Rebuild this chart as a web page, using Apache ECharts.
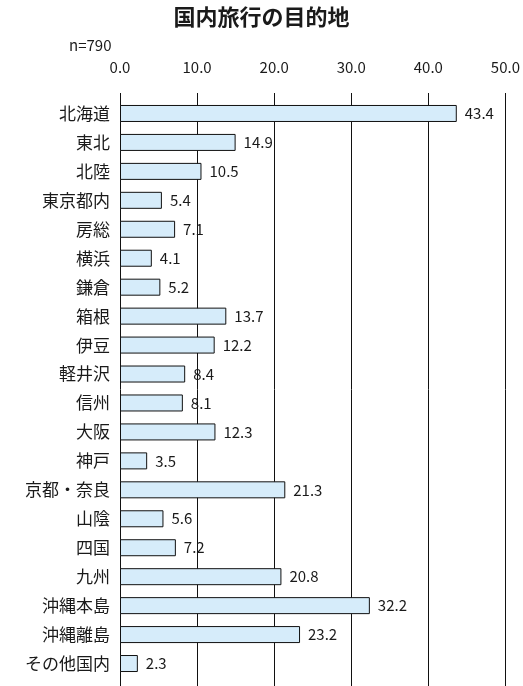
<!DOCTYPE html>
<html>
<head>
<meta charset="utf-8" />
<title>国内旅行の目的地</title>
<script src="https://cdn.jsdelivr.net/npm/echarts@6/dist/echarts.min.js"></script>
<style>
  * { margin: 0; padding: 0; }
  body { background: #ffffff; }
  #chart { width: 523px; height: 686px; }
</style>
</head>
<body>
<div id="chart"></div>
<script>
var categories = ['北海道', '東北', '北陸', '東京都内', '房総', '横浜', '鎌倉', '箱根', '伊豆', '軽井沢',
                  '信州', '大阪', '神戸', '京都・奈良', '山陰', '四国', '九州', '沖縄本島', '沖縄離島', 'その他国内'];
var values = [43.4, 14.9, 10.5, 5.4, 7.1, 4.1, 5.2, 13.7, 12.2, 8.4,
              8.1, 12.3, 3.5, 21.3, 5.6, 7.2, 20.8, 32.2, 23.2, 2.3];
var xTicks = { min: 0, max: 50, interval: 10 };

var font = '"Noto Sans CJK JP", "Noto Sans", sans-serif';
var chart = echarts.init(document.getElementById('chart'));

chart.setOption({
  animation: false,
  title: [{
    text: '国内旅行の目的地',
    left: 'center',
    top: 1,
    textStyle: { fontFamily: font, fontSize: 22, fontWeight: 'bold', color: '#1a1a1a' }
  }, {
    text: 'n=790',
    left: 64,
    top: 33,
    textStyle: { fontFamily: font, fontSize: 15, fontWeight: 'normal', color: '#1a1a1a' }
  }],
  grid: [
    // grid lines and tick labels
    { left: 120, right: 15, top: 93, bottom: -5 },
    // bars
    { left: 120, right: 15, top: 99, bottom: 8 }
  ],
  xAxis: [{
    gridIndex: 0,
    type: 'value',
    position: 'top',
    min: xTicks.min, max: xTicks.max, interval: xTicks.interval,
    axisLine: { show: false },
    axisTick: { show: false },
    axisLabel: {
      margin: 18,
      fontFamily: font, fontSize: 15, color: '#1a1a1a',
      formatter: function (v) { return v.toFixed(1); }
    },
    splitLine: { show: true, lineStyle: { color: '#111', width: 1 } }
  }, {
    gridIndex: 1,
    type: 'value',
    min: xTicks.min, max: xTicks.max, interval: xTicks.interval,
    show: false
  }],
  yAxis: [{
    gridIndex: 0,
    type: 'value',
    show: false
  }, {
    gridIndex: 1,
    type: 'category',
    inverse: true,
    data: categories,
    axisLine: { show: false },
    axisTick: { show: false },
    splitLine: { show: false },
    axisLabel: {
      margin: 10,
      fontFamily: font, fontSize: 17, color: '#1a1a1a'
    }
  }],
  series: [{
    type: 'bar',
    xAxisIndex: 1,
    yAxisIndex: 1,
    data: values,
    barWidth: 17,
    itemStyle: { color: '#d6ecfa', borderColor: '#111', borderWidth: 1 },
    label: {
      show: true,
      position: 'right',
      distance: 8,
      fontFamily: font, fontSize: 15, color: '#1a1a1a',
      formatter: function (p) { return p.value.toFixed(1); }
    }
  }]
});
</script>
</body>
</html>
